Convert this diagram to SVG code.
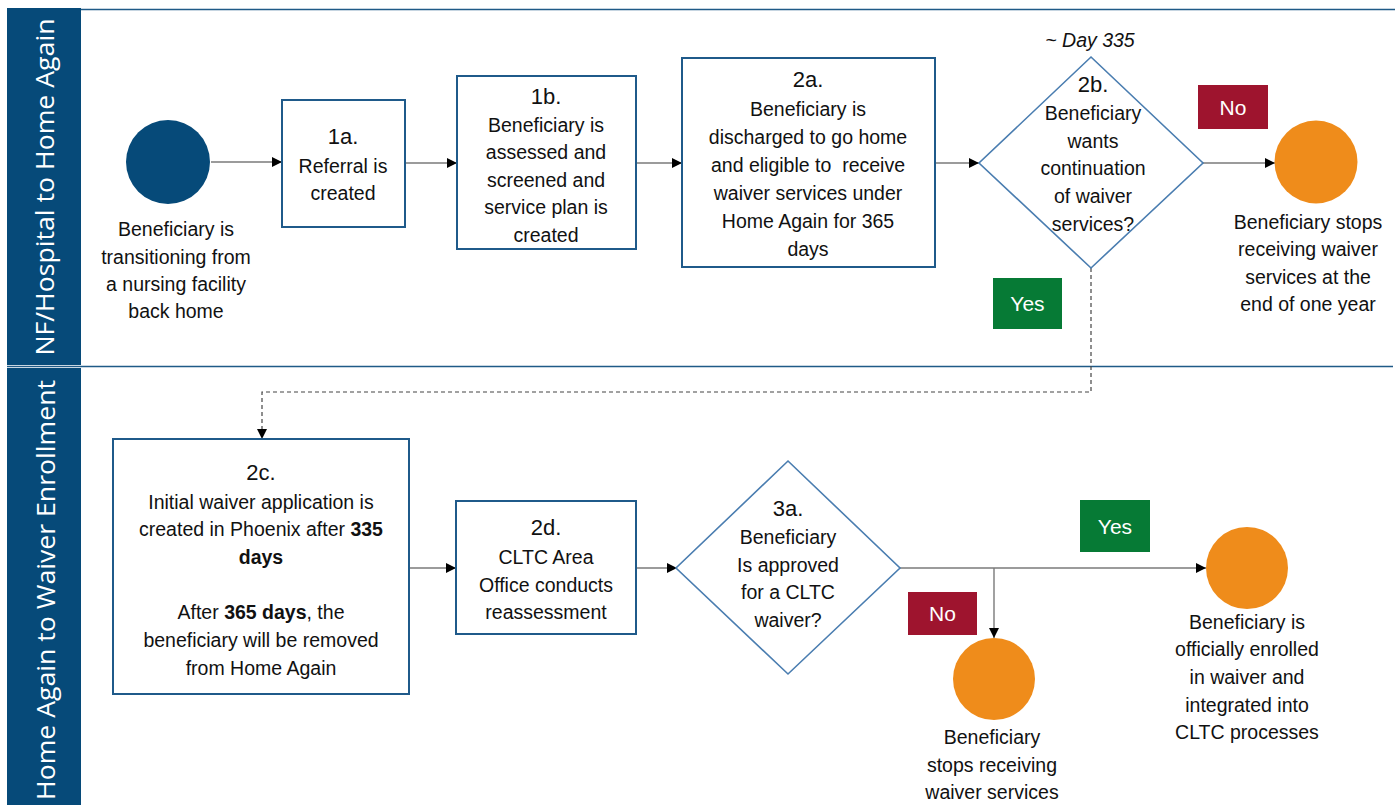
<svg xmlns="http://www.w3.org/2000/svg" width="1399" height="805" viewBox="0 0 1399 805">
<defs>
<style>
.lane{fill:#064a79}
.lanet{font-family:"Open Sans","DejaVu Sans",sans-serif;font-size:26px;fill:#ffffff}
.t{font-family:"Liberation Sans",Arial,sans-serif;font-size:19.5px;fill:#111111;text-anchor:middle}
.box{fill:#ffffff;stroke:#1f5a8a;stroke-width:2}
.dia{fill:#ffffff;stroke:#4a7db0;stroke-width:1.6}
.lbl{font-family:"Liberation Sans",Arial,sans-serif;font-size:21px;fill:#ffffff;text-anchor:middle}
.con{fill:none;stroke:#7a7a7a;stroke-width:1.4}
.dash{fill:none;stroke:#444444;stroke-width:1.2;stroke-dasharray:4 3}
.b{font-weight:bold}
</style>
<marker id="arr" viewBox="0 0 10 10" refX="10" refY="5" markerWidth="10" markerHeight="10" markerUnits="userSpaceOnUse" orient="auto">
<path d="M0,0 L10,5 L0,10 Z" fill="#000000"/>
</marker>
</defs>

<g id="lanes">
<rect class="lane" x="7" y="8" width="74" height="357"/>
<rect class="lane" x="7" y="368" width="74" height="437"/>
<line x1="81" y1="9.5" x2="1395" y2="9.5" stroke="#1f5a87" stroke-width="1.5"/>
<line x1="7" y1="366.5" x2="1393" y2="366.5" stroke="#1f5a87" stroke-width="1.5"/>
<text class="lanet" x="0" y="0" text-anchor="middle" transform="translate(54,187) rotate(-90)" textLength="337" lengthAdjust="spacingAndGlyphs">NF/Hospital to Home Again</text>
<text class="lanet" x="0" y="0" text-anchor="middle" transform="translate(55,590) rotate(-90)" textLength="420" lengthAdjust="spacingAndGlyphs">Home Again to Waiver Enrollment</text>
</g>

<g id="connectors">
<line class="con" x1="211" y1="162" x2="282" y2="162" marker-end="url(#arr)"/>
<line class="con" x1="405" y1="163" x2="457" y2="163" marker-end="url(#arr)"/>
<line class="con" x1="636" y1="163" x2="682" y2="163" marker-end="url(#arr)"/>
<line class="con" x1="935" y1="163" x2="979" y2="163" marker-end="url(#arr)"/>
<line class="con" x1="1203" y1="163" x2="1275" y2="163" marker-end="url(#arr)"/>
<polyline class="dash" points="1091,268 1091,392 262,392 262,439" marker-end="url(#arr)"/>
<line class="con" x1="409" y1="568" x2="456" y2="568" marker-end="url(#arr)"/>
<line class="con" x1="636" y1="568" x2="677" y2="568" marker-end="url(#arr)"/>
<line class="con" x1="900" y1="568" x2="1206" y2="568" marker-end="url(#arr)"/>
<line class="con" x1="994" y1="568" x2="994" y2="638" stroke="#333333" marker-end="url(#arr)"/>
</g>

<g id="start">
<circle cx="168" cy="162" r="42" fill="#064a79"/>
<text class="t" x="176"><tspan x="176" y="236">Beneficiary is</tspan><tspan x="176" y="264">transitioning from</tspan><tspan x="176" y="291">a nursing facility</tspan><tspan x="176" y="318">back home</tspan></text>
</g>

<g id="n1a">
<rect class="box" x="282" y="100" width="123" height="127"/>
<text class="t"><tspan x="343" y="144" font-size="22">1a.</tspan><tspan x="343" y="173">Referral is</tspan><tspan x="343" y="200">created</tspan></text>
</g>

<g id="n1b">
<rect class="box" x="457" y="76" width="179" height="173"/>
<text class="t"><tspan x="546" y="104" font-size="22">1b.</tspan><tspan x="546" y="132">Beneficiary is</tspan><tspan x="546" y="159">assessed and</tspan><tspan x="546" y="187">screened and</tspan><tspan x="546" y="214">service plan is</tspan><tspan x="546" y="242">created</tspan></text>
</g>

<g id="n2a">
<rect class="box" x="682" y="58" width="253" height="209"/>
<text class="t"><tspan x="808" y="87" font-size="22">2a.</tspan><tspan x="808" y="116">Beneficiary is</tspan><tspan x="808" y="144">discharged to go home</tspan><tspan x="808" y="172" xml:space="preserve">and eligible to  receive</tspan><tspan x="808" y="200">waiver services under</tspan><tspan x="808" y="228">Home Again for 365</tspan><tspan x="808" y="256">days</tspan></text>
</g>

<g id="n2b">
<text class="t" x="1090" y="47" font-style="italic">~ Day 335</text>
<polygon class="dia" points="1091,57 1203,163 1091,268 979,163"/>
<text class="t"><tspan x="1093" y="92" font-size="22">2b.</tspan><tspan x="1093" y="120">Beneficiary</tspan><tspan x="1093" y="148">wants</tspan><tspan x="1093" y="175">continuation</tspan><tspan x="1093" y="203">of waiver</tspan><tspan x="1093" y="231">services?</tspan></text>
</g>

<g id="lblNo1">
<rect x="1198" y="85" width="70" height="44" fill="#9e142e"/>
<text class="lbl" x="1233" y="115">No</text>
</g>

<g id="lblYes1">
<rect x="993" y="278" width="69" height="51" fill="#067a35"/>
<text class="lbl" x="1027.5" y="311">Yes</text>
</g>

<g id="end1">
<circle cx="1316" cy="162" r="41.5" fill="#ef8c1b"/>
<text class="t"><tspan x="1308" y="229">Beneficiary stops</tspan><tspan x="1308" y="256">receiving waiver</tspan><tspan x="1308" y="284">services at the</tspan><tspan x="1308" y="311">end of one year</tspan></text>
</g>

<g id="n2c">
<rect class="box" x="113" y="439" width="296" height="255"/>
<text class="t"><tspan x="261" y="480" font-size="22">2c.</tspan><tspan x="261" y="509">Initial waiver application is</tspan><tspan x="261" y="536">created in Phoenix after <tspan class="b">335</tspan></tspan><tspan x="261" y="564" class="b">days</tspan><tspan x="261" y="619">After <tspan class="b">365 days</tspan>, the</tspan><tspan x="261" y="647">beneficiary will be removed</tspan><tspan x="261" y="675">from Home Again</tspan></text>
</g>

<g id="n2d">
<rect class="box" x="456" y="501" width="180" height="133"/>
<text class="t"><tspan x="546" y="535" font-size="22">2d.</tspan><tspan x="546" y="564">CLTC Area</tspan><tspan x="546" y="592">Office conducts</tspan><tspan x="546" y="619">reassessment</tspan></text>
</g>

<g id="n3a">
<polygon class="dia" points="788,461 900,568 788,674 676,568"/>
<text class="t"><tspan x="788" y="516" font-size="22">3a.</tspan><tspan x="788" y="544">Beneficiary</tspan><tspan x="788" y="572">Is approved</tspan><tspan x="788" y="599">for a CLTC</tspan><tspan x="788" y="627">waiver?</tspan></text>
</g>

<g id="lblNo2">
<rect x="908" y="592" width="69" height="43" fill="#9e142e"/>
<text class="lbl" x="942.5" y="621">No</text>
</g>

<g id="lblYes2">
<rect x="1080" y="500" width="70" height="52" fill="#067a35"/>
<text class="lbl" x="1115" y="534">Yes</text>
</g>

<g id="end2">
<circle cx="994" cy="679" r="41" fill="#ef8c1b"/>
<text class="t"><tspan x="992" y="744">Beneficiary</tspan><tspan x="992" y="772">stops receiving</tspan><tspan x="992" y="799">waiver services</tspan></text>
</g>

<g id="end3">
<circle cx="1247" cy="568" r="41" fill="#ef8c1b"/>
<text class="t"><tspan x="1247" y="629">Beneficiary is</tspan><tspan x="1247" y="656">officially enrolled</tspan><tspan x="1247" y="684">in waiver and</tspan><tspan x="1247" y="712">integrated into</tspan><tspan x="1247" y="739">CLTC processes</tspan></text>
</g>
</svg>
